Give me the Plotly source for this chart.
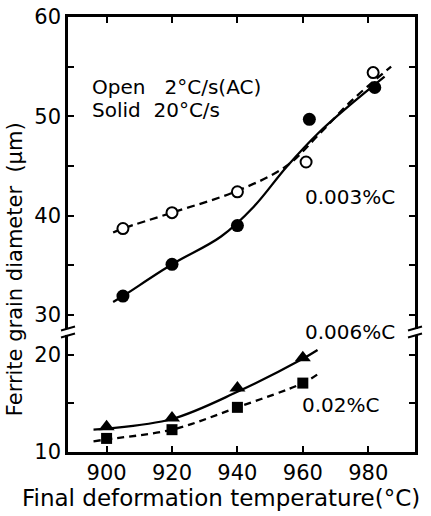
import plotly.graph_objects as go

# ---------------- data ----------------
# 0.003 %C, open = 2 C/s (AC), solid = 20 C/s  (upper panel)
open003_x = [905, 920, 940, 961, 981.5]
open003_y = [38.7, 40.3, 42.4, 45.4, 54.4]
solid003_x = [905, 920, 940, 962, 982]
solid003_y = [31.9, 35.1, 39.0, 49.7, 52.9]

# 0.006 %C (triangles) and 0.02 %C (squares)  (lower panel)
tri006_x = [900, 920, 940, 960]
tri006_y = [12.6, 13.5, 16.6, 19.7]
sq002_x = [900, 920, 940, 960]
sq002_y = [11.4, 12.3, 14.6, 17.1]

# hand-drawn fitted curves
fit_open003_x = [902, 905, 920, 940, 955, 965, 975, 987]
fit_open003_y = [38.3, 38.7, 40.3, 42.5, 45.0, 48.2, 51.6, 55.0]
fit_solid003_x = [902, 905, 920, 935, 945, 955, 965, 975, 985]
fit_solid003_y = [31.3, 31.9, 35.1, 37.9, 40.9, 44.9, 48.4, 51.3, 54.0]
fit_tri006_x = [896, 900, 920, 940, 960, 964.5]
fit_tri006_y = [12.3, 12.4, 13.4, 16.2, 19.6, 20.5]
fit_sq002_x = [896, 900, 920, 940, 960, 964.5]
fit_sq002_y = [11.1, 11.3, 12.3, 14.6, 17.1, 18.0]

x_ticks = [900, 920, 940, 960, 980]
low_ticks = [10, 15, 20]
low_labels = ["10", "", "20"]
up_ticks = [30, 35, 40, 45, 50, 55, 60]
up_labels = ["30", "", "40", "", "50", "", "60"]

FONT = "DejaVu Sans"
BLK = "black"
LW = 2.5

fig = go.Figure()

def curve(x, y, ax, dash):
    fig.add_trace(go.Scatter(x=x, y=y, mode="lines", xaxis="x" if ax == "y" else "x2", yaxis=ax,
                             line=dict(color=BLK, width=2.3, dash=dash, shape="spline", smoothing=1.0),
                             showlegend=False, hoverinfo="skip"))

curve(fit_open003_x, fit_open003_y, "y2", "8px,5px")
curve(fit_solid003_x, fit_solid003_y, "y2", "solid")
curve(fit_tri006_x, fit_tri006_y, "y", "solid")
curve(fit_sq002_x, fit_sq002_y, "y", "7px,5px")

fig.add_trace(go.Scatter(x=open003_x, y=open003_y, mode="markers", xaxis="x2", yaxis="y2",
                         marker=dict(symbol="circle", size=11, color="white",
                                     line=dict(color=BLK, width=2)), showlegend=False))
fig.add_trace(go.Scatter(x=solid003_x, y=solid003_y, mode="markers", xaxis="x2", yaxis="y2",
                         marker=dict(symbol="circle", size=13, color=BLK), showlegend=False))
fig.add_trace(go.Scatter(x=tri006_x, y=tri006_y, mode="markers", xaxis="x", yaxis="y",
                         marker=dict(symbol="triangle-up", size=14, color=BLK), showlegend=False))
fig.add_trace(go.Scatter(x=sq002_x, y=sq002_y, mode="markers", xaxis="x", yaxis="y",
                         marker=dict(symbol="square", size=11, color=BLK), showlegend=False))

BREAK = 0.276
axis_common = dict(showline=True, linecolor=BLK, linewidth=LW, ticks="inside", ticklen=6,
                   tickwidth=2, tickcolor=BLK, showgrid=False, zeroline=False, automargin=False,
                   tickfont=dict(family=FONT, size=21, color=BLK))

fig.update_layout(
    width=431, height=516,
    margin=dict(l=68, r=16, t=17, b=64, autoexpand=False),
    plot_bgcolor="white", paper_bgcolor="white",
    font=dict(family=FONT, color=BLK),
    xaxis=dict(axis_common, range=[888.2, 994.3], tickvals=x_ticks, anchor="y", domain=[0, 1]),
    xaxis2=dict(axis_common, range=[888.2, 994.3], tickvals=x_ticks, anchor="y2",
                side="top", showticklabels=False, matches="x"),
    yaxis=dict(axis_common, range=[10, 22.37], domain=[0, BREAK], tickvals=low_ticks,
               ticktext=low_labels, mirror="ticks", anchor="x", ticklabelstandoff=0),
    yaxis2=dict(axis_common, range=[28.29, 60], domain=[BREAK, 1], tickvals=up_ticks,
                ticktext=up_labels, mirror="ticks", anchor="x2", ticklabelstandoff=0),
)

ann_font = dict(family=FONT, size=20, color=BLK)
fig.add_annotation(text="Ferrite grain diameter  (μm)", textangle=-90, xref="paper", yref="paper",
                   x=-0.153, y=0.42, xanchor="center", yanchor="middle", showarrow=False,
                   font=dict(family=FONT, size=21, color=BLK))
fig.add_annotation(text="Final deformation temperature(°C)", xref="paper", yref="paper",
                   x=0.441, y=-0.105, xanchor="center", yanchor="middle", showarrow=False,
                   font=dict(family=FONT, size=23, color=BLK))
fig.add_annotation(text="Open   2°C/s(AC)", xref="x2", yref="y2", x=894.9, y=52.95,
                   xanchor="left", yanchor="middle", showarrow=False, font=ann_font)
fig.add_annotation(text="Solid  20°C/s", xref="x2", yref="y2", x=894.9, y=50.6,
                   xanchor="left", yanchor="middle", showarrow=False, font=ann_font)
fig.add_annotation(text="0.003%C", xref="x2", yref="y2", x=974.4, y=41.9,
                   xanchor="center", yanchor="middle", showarrow=False, font=ann_font)
fig.add_annotation(text="0.006%C", xref="x", yref="paper", x=974.3, y=0.277,
                   xanchor="center", yanchor="middle", showarrow=False, font=ann_font)
fig.add_annotation(text="0.02%C", xref="x", yref="paper", x=971.7, y=0.108,
                   xanchor="center", yanchor="middle", showarrow=False, font=ann_font)

# axis-break marks on both spines
for xp in (0, 1):
    fig.add_shape(type="rect", xref="paper", yref="paper", xsizemode="pixel", ysizemode="pixel",
                  xanchor=xp, yanchor=BREAK, x0=-3, x1=3, y0=-3, y1=3,
                  fillcolor="white", line=dict(width=0), layer="above")
    for dy in (-3.5, 3.5):
        fig.add_shape(type="line", xref="paper", yref="paper", xsizemode="pixel", ysizemode="pixel",
                      xanchor=xp, yanchor=BREAK, x0=-7, x1=7, y0=dy - 2, y1=dy + 2,
                      line=dict(color=BLK, width=2), layer="above")

fig.write_html("out.html")
